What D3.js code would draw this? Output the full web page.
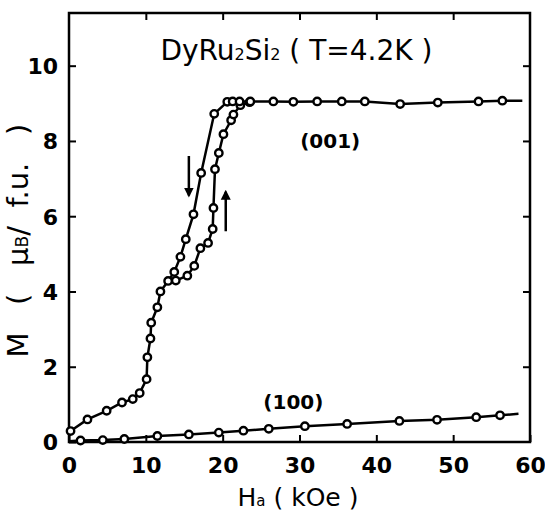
<!DOCTYPE html>
<html>
<head>
<meta charset="utf-8">
<script src="https://cdn.jsdelivr.net/npm/d3@7"></script>
<style>
  body { margin: 0; background: #fff; }
  text { font-family: "DejaVu Sans", sans-serif; fill: #000; }
</style>
</head>
<body>
<div id="chart"></div>
<script>
// (001) low-field part, shared by both sweeps
const low_H = [0.2, 2.4, 4.9, 6.9, 8.3, 9.2, 10.1, 10.2, 10.6, 10.7, 11.5, 11.9, 12.9];
const low_M = [0.29, 0.6, 0.83, 1.05, 1.14, 1.3, 1.67, 2.25, 2.75, 3.17, 3.58, 4.0, 4.28];

// (001) increasing field branch
const up_H = [12.9, 13.9, 15.4, 16.3, 17.1, 18.1, 18.7, 18.8, 19.0, 19.5, 20.1, 21.1, 21.4, 22.3, 23.5];
const up_M = [4.28, 4.29, 4.42, 4.68, 5.15, 5.29, 5.66, 6.22, 7.25, 7.68, 8.18, 8.55, 8.7, 8.95, 9.03];

// (001) decreasing field branch
const down_H = [20.6, 18.9, 17.2, 16.2, 15.2, 14.5, 13.7, 12.9];
const down_M = [9.04, 8.72, 7.15, 6.05, 5.39, 4.92, 4.52, 4.28];

// (001) saturated plateau
const sat_H = [20.6, 21.3, 22.2, 23.6, 26.6, 29.2, 32.3, 35.5, 38.5, 43.1, 48.0, 53.3, 56.4, 59.0];
const sat_M = [9.04, 9.05, 9.05, 9.05, 9.05, 9.04, 9.05, 9.05, 9.05, 8.98, 9.02, 9.05, 9.07, 9.07];

// (100) direction
const hard_H = [0.0, 1.5, 4.4, 7.2, 11.5, 15.6, 19.5, 22.7, 26.0, 30.7, 36.2, 43.0, 47.9, 53.0, 56.1, 58.5];
const hard_M = [0.02, 0.04, 0.05, 0.08, 0.16, 0.2, 0.25, 0.3, 0.35, 0.42, 0.48, 0.56, 0.59, 0.66, 0.71, 0.75];

const x_ticks = [0, 10, 20, 30, 40, 50, 60];
const y_ticks = [0, 2, 4, 6, 8, 10];

const margin = {top: 13, right: 15, bottom: 71, left: 69};
const width = 545 - margin.left - margin.right;
const height = 513 - margin.top - margin.bottom;

const x = d3.scaleLinear().domain([0, 60]).range([0, width]);
const y = d3.scaleLinear().domain([0, 11.4]).range([height, 0]);

const svg = d3.select('#chart')
  .append('svg')
    .attr('width', 545)
    .attr('height', 513)
  .append('g')
    .attr('transform', 'translate(' + margin.left + ',' + margin.top + ')');

// axes with inward ticks
const ax_bottom = svg.append('g')
  .attr('transform', 'translate(0,' + height + ')')
  .call(d3.axisBottom(x).tickValues(x_ticks).tickSize(-7).tickPadding(15));
const ax_left = svg.append('g')
  .call(d3.axisLeft(y).tickValues(y_ticks).tickSize(-7).tickPadding(11));
svg.append('g')
  .call(d3.axisTop(x).tickValues(x_ticks.slice(1, -1)).tickSize(-7).tickFormat(''));
svg.append('g')
  .attr('transform', 'translate(' + width + ',0)')
  .call(d3.axisRight(y).tickValues(y_ticks.slice(1)).tickSize(-7).tickFormat(''));

svg.selectAll('.domain').remove();
svg.selectAll('.tick line').attr('stroke', '#000').attr('stroke-width', 2);
ax_bottom.selectAll('.tick text').style('font-size', '22px').style('font-weight', '600');
ax_left.selectAll('.tick text').style('font-size', '22px').style('font-weight', '600')
  .attr('dy', '0.36em');

svg.append('rect')
  .attr('width', width)
  .attr('height', height)
  .attr('fill', 'none')
  .attr('stroke', '#000')
  .attr('stroke-width', 2.5);

// lines and markers
const line = d3.line().x(d => x(d[0])).y(d => y(d[1]));
const zip = (a, b) => a.map((v, i) => [v, b[i]]);

const curves = [
  {pts: zip(low_H, low_M), marks: zip(low_H, low_M)},
  {pts: zip(up_H, up_M), marks: zip(up_H, up_M).slice(1)},
  {pts: zip(down_H, down_M), marks: zip(down_H, down_M).slice(1, -1)},
  {pts: zip(sat_H, sat_M), marks: zip(sat_H, sat_M).slice(0, -1)},
  {pts: zip(hard_H, hard_M), marks: zip(hard_H, hard_M).slice(1, -1)}
];

curves.forEach(c => {
  svg.append('path')
    .datum(c.pts)
    .attr('fill', 'none')
    .attr('stroke', '#000')
    .attr('stroke-width', 2.5)
    .attr('d', line);
});
curves.forEach(c => {
  svg.append('g').selectAll('circle')
    .data(c.marks)
    .join('circle')
      .attr('cx', d => x(d[0]))
      .attr('cy', d => y(d[1]))
      .attr('r', 3.7)
      .attr('fill', '#fff')
      .attr('stroke', '#000')
      .attr('stroke-width', 2.4);
});

// sweep arrows [H, M from, M to]
const arrows = [[15.6, 7.6, 6.55], [20.4, 5.6, 6.65]];
svg.append('defs').append('marker')
  .attr('id', 'head')
  .attr('viewBox', '0 0 10 10')
  .attr('refX', 8).attr('refY', 5)
  .attr('markerWidth', 4).attr('markerHeight', 5)
  .attr('orient', 'auto')
  .append('path').attr('d', 'M0,0L10,5L0,10Z').attr('fill', '#000');
arrows.forEach(a => {
  svg.append('line')
    .attr('x1', x(a[0])).attr('x2', x(a[0]))
    .attr('y1', y(a[1])).attr('y2', y(a[2]))
    .attr('stroke', '#000')
    .attr('stroke-width', 2.5)
    .attr('marker-end', 'url(#head)');
});

// labels
const nb = '\u00a0';
const title = svg.append('text')
  .attr('x', x(29.6)).attr('y', y(10.15))
  .attr('text-anchor', 'middle')
  .style('font-size', '28px');
title.append('tspan').text('DyRu');
title.append('tspan').text('2').style('font-size', '16px');
title.append('tspan').text('Si');
title.append('tspan').text('2').style('font-size', '16px');
title.append('tspan').text(nb + '(' + nb + 'T=4.2K' + nb + ')');

svg.append('text')
  .attr('x', x(34)).attr('y', y(7.8))
  .attr('text-anchor', 'middle')
  .style('font-size', '20px')
  .style('font-weight', '600')
  .text('(001)');
svg.append('text')
  .attr('x', x(29.2)).attr('y', y(0.88))
  .attr('text-anchor', 'middle')
  .style('font-size', '20px')
  .style('font-weight', '600')
  .text('(100)');

const ylab = svg.append('text')
  .attr('transform', 'translate(' + (-41) + ',' + y(5.35) + ') rotate(-90)')
  .attr('text-anchor', 'middle')
  .style('font-size', '29px');
ylab.append('tspan').text('M' + nb + nb + nb + '(' + nb + nb + nb + 'μ');
ylab.append('tspan').text('B').style('font-size', '17px');
ylab.append('tspan').text('/' + nb + nb + 'f.u.' + nb + nb + nb + ')');

const xlab = svg.append('text')
  .attr('x', x(29.8)).attr('y', height + 64)
  .attr('text-anchor', 'middle')
  .style('font-size', '25px');
xlab.append('tspan').text('H');
xlab.append('tspan').text('a').style('font-size', '15px');
xlab.append('tspan').text(nb + '(' + nb + 'kOe' + nb + ')');
</script>
</body>
</html>
